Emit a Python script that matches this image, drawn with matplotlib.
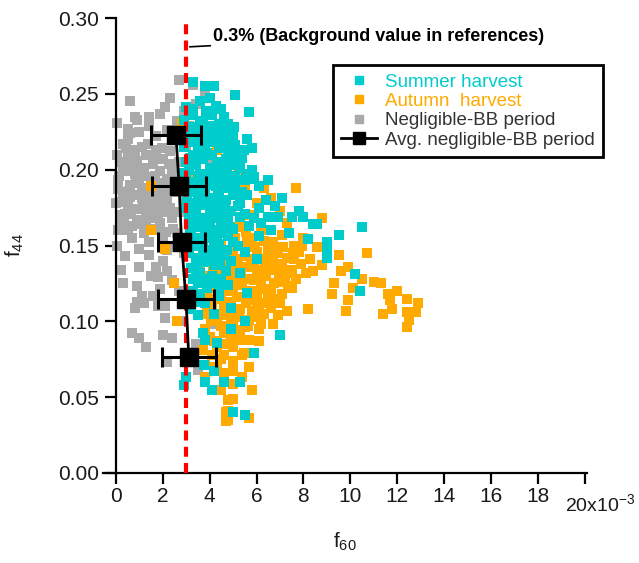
import matplotlib
matplotlib.use("Agg")
import matplotlib.pyplot as plt
from matplotlib.lines import Line2D

plt.rcParams['font.family'] = ['Liberation Sans', 'DejaVu Sans']
plt.rcParams['mathtext.default'] = 'regular'

# f60 values are in units of 10^-3, f44 as fraction
gray_x = [2.7, 3.3, 3.8, 2.3, 0.6, 2.1, 0.8, 1.9, 0.05, 1.4, 0.5, 3.4, 2.9, 0.5, 1.1, 0.7, 0.05, 1.7,
          2.2, 3.1, 1.0, 0.3, 2.6, 3.6, 4.0,
          0.2, 0.5, 0.9, 1.3, 1.6, 2.0, 2.3, 0.4, 0.8, 1.2, 1.5, 1.9, 2.2, 0.1, 0.6, 1.0, 1.4, 1.8,
          2.1, 0.3, 0.7, 1.1, 1.6, 2.0, 0.0, 0.5, 0.9, 1.3, 1.8, 2.3, 2.4, 1.7, 0.2, 3.0, 3.2, 2.8,
          3.5, 3.3, 2.6, 3.0, 2.7, 3.8, 4.1,
          0.2, 0.5, 1.3, 1.5, 1.9, 2.2, 2.4, 1.4, 1.4, 1.7, 1.8, 2.0, 2.2, 0.2, 0.3, 0.9, 1.1, 0.9,
          2.4, 1.6, 1.9, 0.7, 1.0, 2.6, 3.2, 2.9, 3.4, 3.6, 2.7, 3.3, 3.7, 0.05, 0.1,
          0.7, 1.0, 1.3, 2.0, 2.1, 2.4, 0.8, 1.2, 2.1, 2.8, 2.2, 3.4, 3.9, 3.5, 3.9, 4.5, 4.2,
          0.3, 0.8, 1.2, 1.6, 2.0, 2.4, 0.1, 0.6, 1.1, 1.5, 1.9, 2.5, 0.4, 0.9, 1.3, 1.7, 2.1,
          0.2, 0.7, 1.2, 1.6, 2.0, 2.5, 1.0, 1.5, 0.4, 1.8, 2.2, 2.7, 0.9,
          0.15, 0.45, 0.75, 1.05, 1.35, 1.65, 1.95, 2.25, 0.25, 0.55, 0.85, 1.15, 1.45, 1.75,
          2.05, 0.35, 0.65, 0.95, 1.25, 1.55, 1.85, 2.15, 2.45, 0.6, 1.4]
gray_y = [0.259, 0.256, 0.249, 0.247, 0.245, 0.241, 0.235, 0.237, 0.231, 0.229, 0.227, 0.243, 0.239,
          0.220, 0.215, 0.213, 0.210, 0.222, 0.226, 0.229, 0.225, 0.217, 0.232, 0.231, 0.222,
          0.205, 0.208, 0.206, 0.210, 0.204, 0.207, 0.212, 0.199, 0.197, 0.201, 0.195, 0.199, 0.194,
          0.193, 0.190, 0.192, 0.187, 0.190, 0.186, 0.185, 0.183, 0.181, 0.180, 0.178, 0.178, 0.176,
          0.174, 0.172, 0.170, 0.175, 0.201, 0.213, 0.170, 0.215, 0.205, 0.198, 0.210, 0.190, 0.185,
          0.180, 0.172, 0.195, 0.205,
          0.167, 0.160, 0.167, 0.171, 0.165, 0.180, 0.168, 0.152, 0.144, 0.136, 0.129, 0.140, 0.133,
          0.134, 0.125, 0.123, 0.117, 0.113, 0.127, 0.117, 0.121, 0.155, 0.148, 0.158, 0.163, 0.145,
          0.150, 0.137, 0.120, 0.118, 0.163, 0.150, 0.160,
          0.092, 0.089, 0.083, 0.091, 0.102, 0.089, 0.109, 0.112, 0.110, 0.100, 0.073, 0.085, 0.090,
          0.068, 0.110, 0.120, 0.098,
          0.202, 0.211, 0.196, 0.208, 0.191, 0.198, 0.187, 0.182, 0.188, 0.184, 0.183, 0.190,
          0.171, 0.167, 0.178, 0.175, 0.172, 0.160, 0.163, 0.158, 0.161, 0.155, 0.149,
          0.136, 0.130, 0.143, 0.110, 0.147, 0.205, 0.233,
          0.196, 0.214, 0.203, 0.199, 0.217, 0.196, 0.214, 0.204, 0.179, 0.186, 0.191, 0.176,
          0.183, 0.179, 0.191, 0.167, 0.171, 0.164, 0.162, 0.168, 0.160, 0.159, 0.161, 0.224, 0.235]

autumn_x = [2.8, 4.6, 4.3, 4.9, 5.5, 6.3, 6.6, 7.0, 7.7, 8.8, 5.2, 4.0, 3.3, 6.0, 5.7, 7.3,
            4.2, 4.8, 5.3, 5.8, 6.2, 6.7, 7.1, 7.6, 8.0, 4.5, 5.0, 5.5, 6.0, 6.4, 6.9, 7.3, 7.8,
            8.3, 3.8, 10.7, 9.5, 3.5,
            3.6, 4.0, 4.4, 4.8, 5.2, 5.6, 6.0, 6.4, 6.8, 7.3, 7.7, 8.1, 8.4, 3.8, 4.2, 4.6, 5.0,
            5.4, 5.8, 6.2, 6.6, 7.0, 9.9, 9.6, 9.3, 10.1, 11.0, 11.3, 12.0, 11.6,
            3.7, 4.1, 4.5, 4.9, 5.3, 5.7, 6.1, 6.5, 6.9, 7.3, 8.2, 6.7, 9.9, 9.8, 12.4, 12.9, 11.7,
            12.4, 12.8, 11.4, 12.5, 12.4, 4.3, 5.0, 5.9, 3.9,
            3.8, 4.0, 4.3, 3.7, 5.0, 5.3, 5.7, 4.6, 6.1, 4.9,
            3.8, 4.2, 4.3, 4.6, 5.0, 5.0, 5.7, 3.8, 4.8, 4.8, 4.8, 5.8, 5.0, 4.7, 4.7, 5.7, 4.5,
            1.5, 2.1, 2.5, 1.5, 2.6, 2.8,
            4.4, 5.1, 5.9, 6.5, 7.1, 7.5, 6.3, 5.5, 4.7, 3.9, 4.1, 5.6, 7.9, 8.6, 7.0, 6.0, 4.5,
            5.4, 4.1,
            4.3, 4.7, 5.1, 5.5, 5.9, 6.3, 6.7, 7.1, 7.5, 4.4, 4.8, 5.2, 5.6, 6.0, 6.4, 6.8, 7.2,
            7.6, 4.2, 4.6, 5.0, 5.4, 5.8, 6.2, 6.6, 4.5, 4.9, 5.3, 5.7, 6.1, 4.2, 4.6, 5.0, 5.4,
            8.8, 9.2, 10.5, 11.8,
            4.35, 4.75, 5.15, 5.55, 5.95, 6.35, 6.75, 7.15, 7.55, 7.95, 4.15, 4.55, 4.95, 5.35,
            5.75, 6.15, 6.55, 6.95, 7.35, 4.35, 4.75, 5.15, 5.55, 5.95, 6.35, 6.75, 4.05, 4.45,
            4.85, 5.25, 5.65, 6.05, 3.95, 4.65, 5.45]
autumn_y = [0.231, 0.223, 0.213, 0.215, 0.189, 0.188, 0.181, 0.173, 0.188, 0.168, 0.199, 0.195,
            0.193, 0.178, 0.170, 0.165,
            0.160, 0.158, 0.162, 0.155, 0.160, 0.152, 0.157, 0.150, 0.155, 0.150, 0.147, 0.143,
            0.146, 0.141, 0.145, 0.142, 0.146, 0.141, 0.145, 0.145, 0.144, 0.155,
            0.135, 0.130, 0.137, 0.132, 0.138, 0.128, 0.134, 0.130, 0.137, 0.132, 0.128, 0.132,
            0.133, 0.125, 0.122, 0.126, 0.121, 0.124, 0.120, 0.125, 0.121, 0.126, 0.136, 0.133,
            0.125, 0.122, 0.126, 0.125, 0.120, 0.118,
            0.115, 0.111, 0.117, 0.113, 0.108, 0.114, 0.110, 0.116, 0.104, 0.107, 0.108, 0.098,
            0.114, 0.107, 0.115, 0.112, 0.114, 0.106, 0.106, 0.105, 0.101, 0.096, 0.102, 0.100,
            0.103, 0.105,
            0.095, 0.090, 0.083, 0.081, 0.083, 0.088, 0.088, 0.092, 0.095, 0.090,
            0.071, 0.070, 0.069, 0.066, 0.074, 0.067, 0.070, 0.063, 0.048, 0.041, 0.035, 0.055,
            0.049, 0.040, 0.034, 0.036, 0.055,
            0.160, 0.148, 0.125, 0.189, 0.100, 0.112,
            0.142, 0.133, 0.139, 0.147, 0.118, 0.122, 0.105, 0.096, 0.104, 0.119, 0.145, 0.152,
            0.138, 0.149, 0.112, 0.119, 0.075, 0.078, 0.078,
            0.153, 0.139, 0.155, 0.150, 0.127, 0.153, 0.143, 0.138, 0.134, 0.129, 0.120, 0.128,
            0.136, 0.113, 0.121, 0.115, 0.128, 0.141, 0.115, 0.110, 0.107, 0.116, 0.107, 0.098,
            0.109, 0.097, 0.100, 0.094, 0.101, 0.087, 0.087, 0.078, 0.059, 0.063,
            0.137, 0.118, 0.128, 0.108,
            0.147, 0.144, 0.141, 0.159, 0.149, 0.135, 0.149, 0.149, 0.145, 0.150, 0.134, 0.131,
            0.127, 0.131, 0.141, 0.129, 0.134, 0.131, 0.123, 0.119, 0.126, 0.116, 0.112, 0.118,
            0.112, 0.125, 0.100, 0.104, 0.095, 0.103, 0.097, 0.108, 0.110, 0.085, 0.079]

summer_x = [3.3, 3.8, 4.2, 3.0, 4.0, 3.6, 5.1, 5.7, 4.5,
            2.9, 3.3, 3.7, 4.1, 4.4, 4.7, 3.1, 3.5, 3.9, 4.3, 5.0, 5.6, 4.6,
            2.9, 3.2, 3.5, 3.8, 4.1, 4.4, 4.8, 5.1, 5.8, 3.0, 3.4, 3.7, 4.0, 4.3, 4.6, 5.0, 5.3,
            5.8, 2.8,
            3.0, 3.3, 3.6, 3.9, 4.2, 4.5, 4.8, 5.1, 5.5, 5.8, 6.1, 6.5, 3.1, 3.5, 3.8, 4.1, 4.4,
            4.7, 5.0, 5.4, 7.1,
            3.0, 3.4, 3.7, 4.0, 4.3, 4.6, 4.9, 5.2, 5.5, 5.9, 6.1, 6.5, 6.9, 7.5, 8.0, 8.4, 3.2,
            3.6, 4.1, 4.5, 5.0, 5.7, 6.6, 7.4, 10.5, 8.6,
            3.0, 3.3, 3.7, 4.0, 4.4, 4.8, 5.2, 6.1, 8.2, 9.0, 9.5, 9.0, 9.0, 3.4, 3.9, 4.6, 5.5,
            6.0, 3.1,
            3.2, 3.6, 4.2, 5.3, 4.5, 3.5, 10.2, 3.9, 4.8, 5.6, 3.3,
            3.4, 3.8, 4.4, 3.5, 4.2, 5.5, 10.4, 4.9, 3.2,
            3.7, 3.8, 4.3, 7.0, 5.9, 4.9,
            3.0, 2.9, 3.8, 4.1, 4.6, 4.2, 3.75, 5.3, 5.5, 5.0,
            3.3, 3.6, 4.2, 3.0, 3.4, 4.7, 5.3, 3.8, 4.3, 4.9, 3.7, 3.1, 3.5, 4.0, 4.5, 5.1, 5.4,
            3.9, 4.7, 3.3, 6.4, 6.8, 7.8,
            3.2, 3.6, 4.0, 4.4, 4.8, 5.2, 3.1, 3.5, 3.9, 4.3, 4.7, 5.2, 3.3, 3.7, 4.1, 4.5, 4.9,
            5.3, 3.2, 3.6, 4.0, 4.4, 4.8, 3.4, 3.8, 4.2, 4.6, 5.0, 3.5, 3.9, 4.3, 4.7, 3.3, 3.7,
            4.1, 3.6, 4.0, 4.4, 5.6, 6.2,
            3.05, 3.45, 3.85, 4.25, 4.65, 5.05, 5.45, 3.15, 3.55, 3.95, 4.35, 4.75, 5.15, 5.55,
            3.05, 3.45, 3.85, 4.25, 4.65, 5.05, 3.25, 3.65, 4.05, 4.45, 4.85, 5.25, 3.15, 3.55,
            3.95, 4.35, 4.75, 3.25, 3.65, 4.05, 4.45, 3.4, 3.8, 4.2, 3.6, 5.9]
summer_y = [0.258, 0.255, 0.255, 0.241, 0.247, 0.245, 0.249, 0.238, 0.240,
            0.233, 0.236, 0.232, 0.236, 0.230, 0.226, 0.225, 0.228, 0.222, 0.224, 0.222, 0.220,
            0.235,
            0.215, 0.218, 0.212, 0.216, 0.210, 0.214, 0.212, 0.216, 0.214, 0.205, 0.203, 0.207,
            0.201, 0.205, 0.203, 0.206, 0.201, 0.200, 0.198,
            0.195, 0.192, 0.197, 0.190, 0.194, 0.191, 0.196, 0.189, 0.193, 0.194, 0.189, 0.193,
            0.185, 0.182, 0.186, 0.181, 0.184, 0.180, 0.183, 0.185, 0.181,
            0.175, 0.172, 0.177, 0.170, 0.174, 0.168, 0.173, 0.176, 0.171, 0.168, 0.175, 0.169,
            0.169, 0.169, 0.169, 0.164, 0.165, 0.162, 0.160, 0.163, 0.161, 0.163, 0.160, 0.158,
            0.162, 0.164,
            0.155, 0.150, 0.153, 0.147, 0.151, 0.156, 0.150, 0.156, 0.154, 0.152, 0.157, 0.148,
            0.142, 0.142, 0.140, 0.144, 0.146, 0.141, 0.145,
            0.135, 0.132, 0.137, 0.132, 0.128, 0.125, 0.131, 0.122, 0.124, 0.119, 0.120,
            0.115, 0.112, 0.117, 0.104, 0.105, 0.100, 0.120, 0.109, 0.108,
            0.092, 0.088, 0.086, 0.091, 0.079, 0.095,
            0.063, 0.058, 0.060, 0.055, 0.060, 0.067, 0.071, 0.060, 0.038, 0.040,
            0.240, 0.221, 0.218, 0.188, 0.178, 0.188, 0.178, 0.168, 0.157, 0.140, 0.147, 0.170,
            0.190, 0.200, 0.197, 0.196, 0.208, 0.226, 0.220, 0.210, 0.180, 0.176, 0.173,
            0.228, 0.231, 0.229, 0.219, 0.230, 0.211, 0.200, 0.196, 0.211, 0.199, 0.207, 0.184,
            0.186, 0.191, 0.176, 0.178, 0.189, 0.169, 0.158, 0.166, 0.164, 0.168, 0.167, 0.155,
            0.158, 0.152, 0.158, 0.152, 0.137, 0.145, 0.143, 0.133, 0.128, 0.139, 0.130, 0.118,
            0.125, 0.121, 0.183, 0.165,
            0.221, 0.224, 0.239, 0.242, 0.217, 0.228, 0.213, 0.208, 0.215, 0.194, 0.188, 0.201,
            0.203, 0.197, 0.180, 0.187, 0.181, 0.189, 0.174, 0.193, 0.171, 0.183, 0.178, 0.173,
            0.162, 0.185, 0.160, 0.167, 0.163, 0.146, 0.147, 0.150, 0.141, 0.155, 0.137, 0.132,
            0.128, 0.126, 0.113, 0.195]

# averages over the negligible-BB period, binned by f44
avg_x = [2.56, 2.70, 2.80, 2.99, 3.11]
avg_y = [0.223, 0.189, 0.1525, 0.1145, 0.0763]
avg_xerr = [1.05, 1.14, 1.02, 1.21, 1.14]

background_f60 = 3.0

c_summer = '#00CCCC'
c_autumn = '#FFAA00'
c_gray = '#AAAAAA'

fig = plt.figure(figsize=(6.39, 5.63), dpi=100)
ax = fig.add_axes([103 / 639, 90 / 563, 484 / 639, 455 / 563])

ax.scatter(gray_x, gray_y, marker='s', s=46, color=c_gray, linewidths=0, zorder=2)
ax.scatter(autumn_x, autumn_y, marker='s', s=46, color=c_autumn, linewidths=0, zorder=3)
ax.scatter(summer_x, summer_y, marker='s', s=46, color=c_summer, linewidths=0, zorder=4)

ax.axvline(background_f60, color='#FF0000', lw=3, dashes=(2.4, 1.5), zorder=5, clip_on=False)

ax.errorbar(avg_x, avg_y, xerr=avg_xerr, color='black', lw=2, marker='s', ms=13,
            capsize=7, capthick=2.2, elinewidth=2.2, zorder=6)

ax.annotate('0.3% (Background value in references)', xy=(3.15, 0.281), xytext=(4.15, 0.2875),
            fontsize=13, fontweight='bold', va='center', ha='left',
            arrowprops=dict(arrowstyle='-', color='black', lw=1.2, shrinkA=0, shrinkB=0))

ax.set_xlim(-0.55, 20.1)
ax.set_ylim(0, 0.30)
for side in ['top', 'right']:
    ax.spines[side].set_visible(False)
ax.spines['left'].set_position(('data', 0))
ax.spines['left'].set_linewidth(1.6)
ax.spines['bottom'].set_linewidth(1.6)

ax.set_xticks(range(0, 21, 2))
ax.set_xticklabels([str(v) for v in range(0, 19, 2)] + [''])
ax.set_yticks([0, 0.05, 0.10, 0.15, 0.20, 0.25, 0.30])
ax.set_yticklabels(['0.00', '0.05', '0.10', '0.15', '0.20', '0.25', '0.30'])
ax.tick_params(direction='out', length=8, width=1.6, labelsize=15, colors='black',
               labelcolor='#1a1a1a')
ax.tick_params(axis='x', pad=2)
ax.tick_params(axis='y', pad=4)
ax.text(19.15, -0.0205, '20x10$^{-3}$', fontsize=14, ha='left', va='center', color='#1a1a1a')

ax.set_xlabel('f$_{60}$', fontsize=15, color='#1a1a1a', labelpad=18)
ax.set_ylabel('f$_{44}$', fontsize=15, color='#1a1a1a')
ax.yaxis.set_label_coords(-0.16, 0.5)

handles = [
    Line2D([], [], ls='none', marker='s', ms=6, color=c_summer),
    Line2D([], [], ls='none', marker='s', ms=6, color=c_autumn),
    Line2D([], [], ls='none', marker='s', ms=6, color=c_gray),
    Line2D([], [], color='black', lw=2, marker='s', ms=9),
]
labels = ['Summer harvest', 'Autumn  harvest', 'Negligible-BB period', 'Avg. negligible-BB period']
leg = ax.legend(handles, labels, loc='upper left', bbox_to_anchor=(333 / 639, 1 - 65 / 563),
                bbox_transform=fig.transFigure, fontsize=13.5, frameon=True, fancybox=False,
                framealpha=1, edgecolor='black', handlelength=1.9, handletextpad=0.4,
                labelspacing=0.12, borderpad=0.45, borderaxespad=0)
leg.get_frame().set_linewidth(2)
for txt, col in zip(leg.get_texts(), [c_summer, c_autumn, '#333333', '#333333']):
    txt.set_color(col)

fig.savefig('out.png', dpi=100)
